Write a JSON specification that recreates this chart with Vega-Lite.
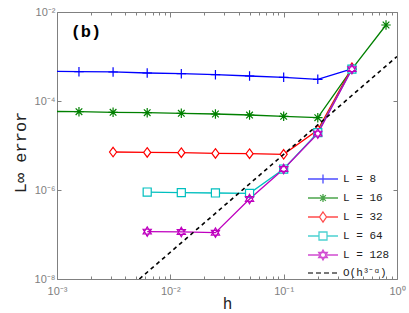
{
  "$schema": "https://vega.github.io/schema/vega-lite/v6.json",
  "width": 340,
  "height": 267,
  "autosize": "none",
  "padding": {"left": 57, "top": 12, "right": 12, "bottom": 34},
  "config": {
    "view": {"stroke": "#808080", "strokeWidth": 1},
    "axis": {
      "domain": false,
      "grid": false,
      "labelFont": "Liberation Sans",
      "labelFontSize": 11,
      "labelColor": "#808080",
      "tickColor": "#808080",
      "tickWidth": 1,
      "labelOverlap": false,
      "labelFlush": false,
      "titleFont": "Liberation Mono",
      "titleFontSize": 17,
      "titleFontWeight": "normal",
      "titleColor": "#222222"
    },
    "legend": {
      "orient": "none",
      "legendX": 260,
      "legendY": 161,
      "padding": 0,
      "labelFont": "Liberation Mono",
      "labelFontSize": 11,
      "labelColor": "#222222",
      "labelOffset": 14,
      "rowPadding": 4,
      "symbolStrokeWidth": 1.3
    }
  },
  "datasets": {
    "series": [
      {"L": "L = 8", "h": 0.00078125, "err": 4.7e-4},
      {"L": "L = 8", "h": 0.0015625, "err": 4.56e-4},
      {"L": "L = 8", "h": 0.003125, "err": 4.49e-4},
      {"L": "L = 8", "h": 0.00625, "err": 4.26e-4},
      {"L": "L = 8", "h": 0.0125, "err": 4.11e-4},
      {"L": "L = 8", "h": 0.025, "err": 3.91e-4},
      {"L": "L = 8", "h": 0.05, "err": 3.65e-4},
      {"L": "L = 8", "h": 0.1, "err": 3.40e-4},
      {"L": "L = 8", "h": 0.2, "err": 3.07e-4},
      {"L": "L = 8", "h": 0.4, "err": 5.24e-4},
      {"L": "L = 16", "h": 0.00078125, "err": 5.85e-5},
      {"L": "L = 16", "h": 0.0015625, "err": 5.75e-5},
      {"L": "L = 16", "h": 0.003125, "err": 5.56e-5},
      {"L": "L = 16", "h": 0.00625, "err": 5.47e-5},
      {"L": "L = 16", "h": 0.0125, "err": 5.28e-5},
      {"L": "L = 16", "h": 0.025, "err": 5.1e-5},
      {"L": "L = 16", "h": 0.05, "err": 4.84e-5},
      {"L": "L = 16", "h": 0.1, "err": 4.53e-5},
      {"L": "L = 16", "h": 0.2, "err": 4.22e-5},
      {"L": "L = 16", "h": 0.4, "err": 5.2e-4},
      {"L": "L = 16", "h": 0.8, "err": 5.1e-3},
      {"L": "L = 32", "h": 0.003125, "err": 7.14e-6},
      {"L": "L = 32", "h": 0.00625, "err": 7.0e-6},
      {"L": "L = 32", "h": 0.0125, "err": 6.9e-6},
      {"L": "L = 32", "h": 0.025, "err": 6.65e-6},
      {"L": "L = 32", "h": 0.05, "err": 6.55e-6},
      {"L": "L = 32", "h": 0.1, "err": 6.34e-6},
      {"L": "L = 32", "h": 0.2, "err": 2.23e-5},
      {"L": "L = 32", "h": 0.4, "err": 5.6e-4},
      {"L": "L = 64", "h": 0.00625, "err": 9.0e-7},
      {"L": "L = 64", "h": 0.0125, "err": 8.7e-7},
      {"L": "L = 64", "h": 0.025, "err": 8.57e-7},
      {"L": "L = 64", "h": 0.05, "err": 8.4e-7},
      {"L": "L = 64", "h": 0.1, "err": 2.96e-6},
      {"L": "L = 64", "h": 0.2, "err": 1.95e-5},
      {"L": "L = 64", "h": 0.4, "err": 5.2e-4},
      {"L": "L = 128", "h": 0.00625, "err": 1.16e-7},
      {"L": "L = 128", "h": 0.0125, "err": 1.14e-7},
      {"L": "L = 128", "h": 0.025, "err": 1.1e-7},
      {"L": "L = 128", "h": 0.05, "err": 6.28e-7},
      {"L": "L = 128", "h": 0.1, "err": 2.96e-6},
      {"L": "L = 128", "h": 0.2, "err": 1.85e-5},
      {"L": "L = 128", "h": 0.4, "err": 5.2e-4}
    ],
    "ref": [
      {"h": 0.00533, "err": 1e-8},
      {"h": 1, "err": 1e-3}
    ],
    "legend": [
      {"key": "L = 8"},
      {"key": "L = 16"},
      {"key": "L = 32"},
      {"key": "L = 64"},
      {"key": "L = 128"},
      {"key": "O(h³⁻ᵅ)"}
    ],
    "label": [
      {"h": 0.0018, "err": 0.0035, "t": "(b)"}
    ]
  },
  "layer": [
    {
      "data": {"name": "series"},
      "mark": {"type": "line", "strokeWidth": 1.3, "clip": true},
      "encoding": {
        "x": {
          "field": "h", "type": "quantitative",
          "scale": {"type": "log", "domain": [0.001, 1], "nice": false},
          "axis": {
            "orient": "bottom",
            "title": "h",
            "titleFontSize": 16,
            "titlePadding": -3,
            "values": [0.001, 0.002, 0.003, 0.004, 0.005, 0.006, 0.007, 0.008, 0.009, 0.01, 0.02, 0.03, 0.04, 0.05, 0.06, 0.07, 0.08, 0.09, 0.1, 0.2, 0.3, 0.4, 0.5, 0.6, 0.7, 0.8, 0.9, 1],
            "labelExpr": "datum.value == 0.001 ? '10⁻³' : datum.value == 0.01 ? '10⁻²' : datum.value == 0.1 ? '10⁻¹' : datum.value == 1 ? '10⁰' : ''",
            "tickSize": {"condition": {"test": "indexof([0.001, 0.01, 0.1, 1], datum.value) >= 0", "value": -5}, "value": -3},
            "labelPadding": 11
          }
        },
        "y": {
          "field": "err", "type": "quantitative",
          "scale": {"type": "log", "domain": [1e-8, 1e-2], "nice": false},
          "axis": {
            "orient": "left",
            "title": "L∞ error",
            "titlePadding": 5,
            "titleY": 140,
            "values": [1e-8, 1e-6, 1e-4, 1e-2],
            "labelExpr": "datum.value > 0.005 ? '10⁻²' : datum.value > 5e-5 ? '10⁻⁴' : datum.value > 5e-7 ? '10⁻⁶' : '10⁻⁸'",
            "tickSize": -4,
            "labelPadding": 6
          }
        },
        "color": {
          "field": "L", "type": "nominal",
          "scale": {"domain": ["L = 8", "L = 16", "L = 32", "L = 64", "L = 128"], "range": ["#0000ff", "#008000", "#ff0000", "#00bfbf", "#bf00bf"]},
          "legend": null
        }
      }
    },
    {
      "data": {"name": "series"},
      "mark": {"type": "point", "filled": false, "fill": "white", "fillOpacity": 1, "strokeWidth": 1.2, "size": 90, "opacity": 1, "clip": true},
      "encoding": {
        "x": {
          "field": "h", "type": "quantitative",
          "axis": {
            "orient": "top",
            "title": null,
            "labels": false,
            "values": [0.001, 0.002, 0.003, 0.004, 0.005, 0.006, 0.007, 0.008, 0.009, 0.01, 0.02, 0.03, 0.04, 0.05, 0.06, 0.07, 0.08, 0.09, 0.1, 0.2, 0.3, 0.4, 0.5, 0.6, 0.7, 0.8, 0.9, 1],
            "tickSize": {"condition": {"test": "indexof([0.001, 0.01, 0.1, 1], datum.value) >= 0", "value": -5}, "value": -3}
          }
        },
        "y": {
          "field": "err", "type": "quantitative",
          "axis": {
            "orient": "right",
            "title": null,
            "labels": false,
            "values": [1e-8, 1e-6, 1e-4, 1e-2],
            "tickSize": -4
          }
        },
        "color": {
          "field": "L", "type": "nominal",
          "scale": {"domain": ["L = 8", "L = 16", "L = 32", "L = 64", "L = 128"], "range": ["#0000ff", "#008000", "#ff0000", "#00bfbf", "#bf00bf"]},
          "legend": null
        },
        "shape": {
          "field": "L", "type": "nominal",
          "scale": {"domain": ["L = 8", "L = 16", "L = 32", "L = 64", "L = 128"], "range": [
            "M-1,0H1M0,-1V1",
            "M-1,0H1M0,-1V1M-0.7,-0.7L0.7,0.7M-0.7,0.7L0.7,-0.7",
            "M0,-1L0.75,0L0,1L-0.75,0Z",
            "M-0.85,-0.85H0.85V0.85H-0.85Z",
            "M0,-1L0.866,0.5L-0.866,0.5ZM0,1L0.866,-0.5L-0.866,-0.5Z"
          ]},
          "legend": null
        }
      }
    },
    {
      "data": {"name": "ref"},
      "mark": {"type": "line", "color": "black", "strokeWidth": 1.6, "strokeDash": [4, 3.5], "clip": true},
      "encoding": {
        "x": {"field": "h", "type": "quantitative", "axis": null},
        "y": {"field": "err", "type": "quantitative", "axis": null}
      }
    },
    {
      "data": {"name": "label"},
      "mark": {"type": "text", "font": "Liberation Mono", "fontWeight": "bold", "fontSize": 17, "color": "black"},
      "encoding": {
        "x": {"field": "h", "type": "quantitative", "axis": null},
        "y": {"field": "err", "type": "quantitative", "axis": null},
        "text": {"field": "t"}
      }
    },
    {
      "data": {"name": "legend"},
      "mark": {"type": "point", "filled": false, "size": 100, "strokeWidth": 1.3, "clip": true},
      "encoding": {
        "x": {"datum": 0.00001, "type": "quantitative", "axis": null},
        "y": {"datum": 0.00001, "type": "quantitative", "axis": null},
        "color": {
          "field": "key", "type": "nominal",
          "scale": {"domain": ["L = 8", "L = 16", "L = 32", "L = 64", "L = 128", "O(h³⁻ᵅ)"], "range": ["#0000ff", "#008000", "#ff0000", "#00bfbf", "#bf00bf", "#000000"]},
          "legend": {"title": null, "labelExpr": "datum.label == 'L = 8' ? '\u00a0L = 8' : datum.label"}
        },
        "shape": {
          "field": "key", "type": "nominal",
          "scale": {"domain": ["L = 8", "L = 16", "L = 32", "L = 64", "L = 128", "O(h³⁻ᵅ)"], "range": [
            "M-3,0H3M0,-0.9V0.9",
            "M-3,0H3M0,-0.8V0.8M-0.57,-0.57L0.57,0.57M-0.57,0.57L0.57,-0.57",
            "M-3,0H-0.7M0.7,0H3M0,-1L0.7,0L0,1L-0.7,0Z",
            "M-3,0H-0.8M0.8,0H3M-0.8,-0.8H0.8V0.8H-0.8Z",
            "M-3,0H-0.8M0.8,0H3M0,-1L0.866,0.5L-0.866,0.5ZM0,1L0.866,-0.5L-0.866,-0.5Z",
            "M-3,0H-2M-1.4,0H-0.4M0.2,0H1.2M1.8,0H2.8"
          ]},
          "legend": {"title": null, "labelExpr": "datum.label == 'L = 8' ? '\u00a0L = 8' : datum.label"}
        }
      }
    }
  ],
  "resolve": {
    "scale": {"color": "independent", "shape": "independent"},
    "axis": {"x": "independent", "y": "independent"}
  }
}
